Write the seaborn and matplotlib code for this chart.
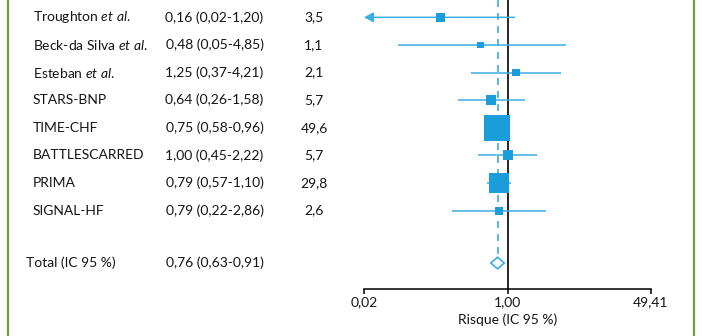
import numpy as np
import pandas as pd
import matplotlib
matplotlib.use("Agg")
import matplotlib.pyplot as plt
import matplotlib.transforms as mtransforms
from matplotlib.lines import Line2D
import seaborn as sns

# Individual studies: hazard ratio, 95 % CI bounds and weight (%)
studies = ["Troughton $\\mathit{et\\ al.}$", "Beck-da Silva $\\mathit{et\\ al.}$",
           "Esteban $\\mathit{et\\ al.}$", "STARS-BNP", "TIME-CHF", "BATTLESCARRED",
           "PRIMA", "SIGNAL-HF"]
hr = [0.16, 0.48, 1.25, 0.64, 0.75, 1.00, 0.79, 0.79]
ci_low = [0.02, 0.05, 0.37, 0.26, 0.58, 0.45, 0.57, 0.22]
ci_high = [1.20, 4.85, 4.21, 1.58, 0.96, 2.22, 1.10, 2.86]
weights = [3.5, 1.1, 2.1, 5.7, 49.6, 5.7, 29.8, 2.6]

# Pooled estimate
total_label = "Total (IC 95 %)"
total_hr = 0.76
total_low = 0.63
total_high = 0.91

# Axis ticks
tick_values = [0.02, 1.00, 49.41]
x_label = "Risque (IC 95 %)"

sns.set_style("white")
plt.rcParams["font.family"] = ["Lato", "DejaVu Sans"]
plt.rcParams["mathtext.fontset"] = "custom"
plt.rcParams["mathtext.rm"] = "Lato"
plt.rcParams["mathtext.it"] = "Lato:italic"

BLUE = "#1b9ddb"
LINE_BLUE = "#3aaee3"
GREEN = "#6e9e3c"
TEXT = "#141414"
FS = 10

def fr(v, nd=2):
    return f"{v:.{nd}f}".replace(".", ",")

W, H = 702, 336
fig = plt.figure(figsize=(W / 100, H / 100), dpi=100)
ax = fig.add_axes([364 / W, (H - 289) / H, (651 - 364) / W, 289 / H])

pos = np.arange(len(studies), dtype=float)
total_y = 8.9
df = pd.DataFrame({"study": studies, "hr": hr, "low": ci_low, "high": ci_high,
                   "weight": weights, "pos": pos})

ax.set_xscale("log")
ax.set_xlim(tick_values[0], tick_values[-1])
ax.set_ylim(9.84, -0.627)

# confidence intervals (arrow where the interval runs past the axis)
xmin = tick_values[0]
for _, r in df.iterrows():
    if r["low"] <= xmin:
        ax.annotate("", xy=(xmin, r["pos"]), xytext=(r["high"], r["pos"]),
                    arrowprops=dict(arrowstyle="-|>,head_length=0.55,head_width=0.3",
                                    color=LINE_BLUE, lw=1.1, shrinkA=0, shrinkB=0,
                                    mutation_scale=10), zorder=3)
    else:
        ax.hlines(r["pos"], r["low"], r["high"], color=LINE_BLUE, lw=1.1, zorder=3)

# no-effect line and pooled estimate line
ax.axvline(1.0, color="black", lw=1.2, zorder=2)
dh = 0.21
ax.vlines(total_hr, -0.627, total_y - dh, color=LINE_BLUE, lw=1.2,
          linestyles=(0, (4.2, 3.6)), zorder=2)

# study squares, area proportional to weight
sns.scatterplot(data=df, x="hr", y="pos", size="weight", sizes=(22, 350),
                size_norm=(min(weights), max(weights)), marker="s", color=BLUE,
                linewidth=0, legend=False, ax=ax, zorder=4)

# pooled diamond
ax.fill([total_low, total_hr, total_high, total_hr],
        [total_y, total_y - dh, total_y, total_y + dh],
        facecolor="white", edgecolor=LINE_BLUE, lw=1.2, zorder=4)

# axes styling
for s in ["top", "left", "right"]:
    ax.spines[s].set_visible(False)
ax.spines["bottom"].set_linewidth(1.1)
ax.spines["bottom"].set_color("black")
ax.set_xticks(tick_values)
ax.set_xticklabels([fr(v) for v in tick_values])
ax.xaxis.set_minor_locator(matplotlib.ticker.NullLocator())
ax.tick_params(axis="x", direction="out", length=3.8, width=1.1, pad=1.5,
               labelsize=FS, colors="black", labelcolor=TEXT, bottom=True)
ax.set_yticks([])
ax.set_ylabel("")
ax.set_xlabel(x_label, fontsize=FS, color=TEXT, labelpad=4)
ax.patch.set_alpha(0)

# text columns
tr = mtransforms.blended_transform_factory(fig.transFigure, ax.transData)
for _, r in df.iterrows():
    ax.text(33 / W, r["pos"], r["study"], transform=tr, ha="left", va="center",
            fontsize=FS, color=TEXT)
    ax.text(214.5 / W, r["pos"], f"{fr(r['hr'])} ({fr(r['low'])}-{fr(r['high'])})",
            transform=tr, ha="center", va="center", fontsize=FS, color=TEXT)
    ax.text(314 / W, r["pos"], fr(r["weight"], 1), transform=tr, ha="center",
            va="center", fontsize=FS, color=TEXT)
ax.text(26 / W, total_y, total_label, transform=tr, ha="left", va="center",
        fontsize=FS, color=TEXT)
ax.text(214.5 / W, total_y, f"{fr(total_hr)} ({fr(total_low)}-{fr(total_high)})",
        transform=tr, ha="center", va="center", fontsize=FS, color=TEXT)

# green side rules
for xp in (7.5, 693.5):
    fig.add_artist(Line2D([xp / W, xp / W], [0, 1], transform=fig.transFigure,
                          color=GREEN, lw=1.6))

fig.savefig("out.png", dpi=100)
